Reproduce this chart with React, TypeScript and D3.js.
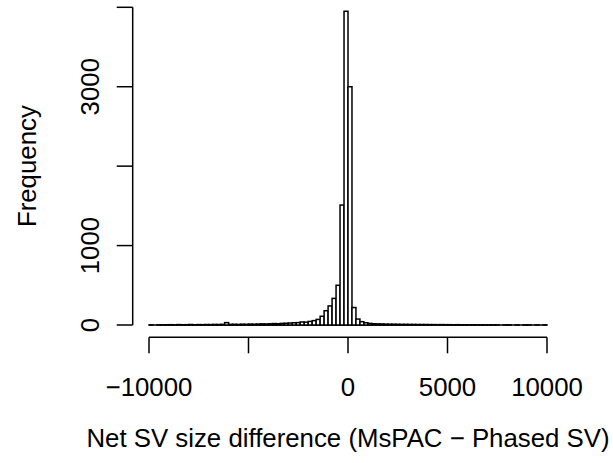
import React from "react";
import * as d3 from "d3";

const BIN_START = -10000;
const BIN_WIDTH = 200;
// histogram counts, 100 bins of width 200 from -10000 to 10000
const counts: number[] = [
  1, 0, 2, 1, 3, 4, 2, 5, 3, 4,
  6, 3, 5, 4, 6, 5, 7, 6, 8, 30,
  8, 9, 7, 10, 9, 11, 10, 12, 14, 13,
  15, 18, 16, 20, 22, 25, 28, 30, 38, 36,
  45, 55, 70, 110, 180, 240, 335, 500, 1510, 3950,
  3000, 220, 75, 42, 28, 20, 16, 14, 13, 11,
  10, 10, 9, 8, 8, 7, 7, 6, 6, 6,
  5, 5, 4, 5, 4, 4, 3, 4, 3, 3,
  2, 3, 2, 2, 1, 2, 2, 1, 0, 1,
  2, 0, 1, 0, 1, 1, 0, 1, 0, 1,
];
const xTicks = [-10000, -5000, 0, 5000, 10000];
const xTickLabels = ["−10000", "", "0", "5000", "10000"];
const yTicks = [0, 1000, 2000, 3000, 4000];
const yTickLabels = ["0", "1000", "", "3000", ""];
const xTitle = "Net SV size difference (MsPAC − Phased SV)";
const yTitle = "Frequency";

export default function App() {
  const W = 613, H = 463;
  const x = d3.scaleLinear().domain([-10000, 10000]).range([149, 547]);
  const y = d3.scaleLinear().domain([0, 4000]).range([325, 7.3]);
  const font = "'Liberation Sans', Arial, sans-serif";
  const fs = 25.8;
  const axisY = 337.3;
  const axisX = 132.7;
  const tick = 16;
  return (
    <svg width={W} height={H} style={{ position: "absolute", left: 0, top: 0, background: "#fff" }}
      fontFamily={font}>
      <rect x={0} y={0} width={W} height={H} fill="#fff" />
      <line x1={x(BIN_START)} x2={x(BIN_START + counts.length * BIN_WIDTH)} y1={y(0)} y2={y(0)} stroke="#000" strokeWidth={1.5} />
      {counts.map((c, i) => {
        const x0 = x(BIN_START + i * BIN_WIDTH);
        const x1 = x(BIN_START + (i + 1) * BIN_WIDTH);
        return c > 0 ? (
          <rect key={i} x={x0} y={y(c)} width={x1 - x0} height={y(0) - y(c)}
            fill="#fff" stroke="#000" strokeWidth={1.5} />
        ) : null;
      })}
      {/* x axis */}
      <line x1={x(xTicks[0])} x2={x(xTicks[xTicks.length - 1])} y1={axisY} y2={axisY} stroke="#000" strokeWidth={1.5} />
      {xTicks.map((t, i) => (
        <g key={t}>
          <line x1={x(t)} x2={x(t)} y1={axisY} y2={axisY + tick} stroke="#000" strokeWidth={1.5} />
          <text x={x(t)} y={386.7 + fs * 0.35} textAnchor="middle" fontSize={fs}>{xTickLabels[i]}</text>
        </g>
      ))}
      {/* y axis */}
      <line x1={axisX} x2={axisX} y1={y(0)} y2={y(4000)} stroke="#000" strokeWidth={1.5} />
      {yTicks.map((t, i) => (
        <g key={t}>
          <line x1={axisX - tick} x2={axisX} y1={y(t)} y2={y(t)} stroke="#000" strokeWidth={1.5} />
          <text transform={`translate(${90 + fs * 0.35},${y(t)}) rotate(-90)`} textAnchor="middle" fontSize={fs}>{yTickLabels[i]}</text>
        </g>
      ))}
      <text x={x(0)} y={438 + fs * 0.35} textAnchor="middle" fontSize={fs}>{xTitle}</text>
      <text transform={`translate(${26.7 + fs * 0.35},${(y(0) + y(4000)) / 2}) rotate(-90)`} textAnchor="middle" fontSize={fs}>{yTitle}</text>
    </svg>
  );
}
